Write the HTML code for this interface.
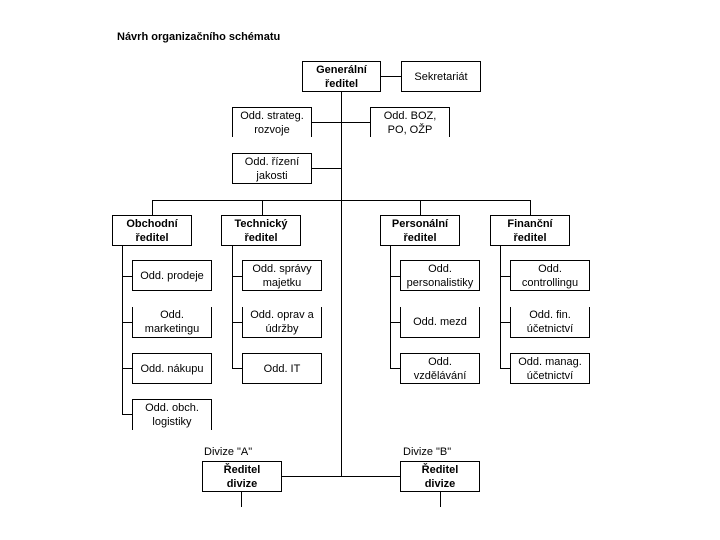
<!DOCTYPE html>
<html><head><meta charset="utf-8"><style>
body{margin:0;width:720px;height:540px;background:#fff;position:relative;overflow:hidden;font-family:"Liberation Sans",sans-serif;}
.b{position:absolute;box-sizing:border-box;border:1px solid #000;background:#fff;display:flex;align-items:center;justify-content:center;text-align:center;font-size:11px;line-height:14px;color:#000;}
.h{font-weight:bold;}
.nb{border-bottom:none;}
.nt{border-top:none;}
.l{position:absolute;background:#000;}
.t{position:absolute;font-size:11px;color:#000;white-space:nowrap;}
</style></head><body>
<div class="t" style="left:117px;top:31px;font-weight:bold;font-size:11px">Návrh organizačního schématu</div>

<!-- main vertical -->
<div class="l" style="left:341px;top:92px;width:1px;height:384px"></div>
<div class="l" style="left:380px;top:76px;width:21px;height:1px"></div>
<div class="l" style="left:312px;top:122px;width:58px;height:1px"></div>
<div class="l" style="left:312px;top:168px;width:29px;height:1px"></div>
<div class="l" style="left:152px;top:200px;width:379px;height:1px"></div>
<div class="l" style="left:152px;top:200px;width:1px;height:15px"></div>
<div class="l" style="left:262px;top:200px;width:1px;height:15px"></div>
<div class="l" style="left:420px;top:200px;width:1px;height:15px"></div>
<div class="l" style="left:530px;top:200px;width:1px;height:15px"></div>

<div class="b h" style="left:302px;top:61px;width:79px;height:31px">Generální<br>ředitel</div>
<div class="b" style="left:401px;top:61px;width:80px;height:31px">Sekretariát</div>
<div class="b nb" style="left:232px;top:107px;width:80px;height:30px">Odd. strateg.<br>rozvoje</div>
<div class="b nb" style="left:370px;top:107px;width:80px;height:30px">Odd. BOZ,<br>PO, OŽP</div>
<div class="b" style="left:232px;top:153px;width:80px;height:31px">Odd. řízení<br>jakosti</div>

<div class="b h" style="left:112px;top:215px;width:80px;height:31px">Obchodní<br>ředitel</div>
<div class="b h" style="left:221px;top:215px;width:80px;height:31px">Technický<br>ředitel</div>
<div class="b h" style="left:380px;top:215px;width:80px;height:31px">Personální<br>ředitel</div>
<div class="b h" style="left:490px;top:215px;width:80px;height:31px">Finanční<br>ředitel</div>

<!-- column lines -->
<div class="l" style="left:122px;top:246px;width:1px;height:169px"></div>
<div class="l" style="left:232px;top:246px;width:1px;height:123px"></div>
<div class="l" style="left:390px;top:246px;width:1px;height:123px"></div>
<div class="l" style="left:500px;top:246px;width:1px;height:123px"></div>
<div class="l" style="left:122px;top:276px;width:10px;height:1px"></div>
<div class="l" style="left:122px;top:322px;width:10px;height:1px"></div>
<div class="l" style="left:122px;top:368px;width:10px;height:1px"></div>
<div class="l" style="left:122px;top:414px;width:10px;height:1px"></div>
<div class="l" style="left:232px;top:276px;width:10px;height:1px"></div>
<div class="l" style="left:232px;top:322px;width:10px;height:1px"></div>
<div class="l" style="left:232px;top:368px;width:10px;height:1px"></div>
<div class="l" style="left:390px;top:276px;width:10px;height:1px"></div>
<div class="l" style="left:390px;top:322px;width:10px;height:1px"></div>
<div class="l" style="left:390px;top:368px;width:10px;height:1px"></div>
<div class="l" style="left:500px;top:276px;width:10px;height:1px"></div>
<div class="l" style="left:500px;top:322px;width:10px;height:1px"></div>
<div class="l" style="left:500px;top:368px;width:10px;height:1px"></div>

<div class="b" style="left:132px;top:260px;width:80px;height:31px">Odd. prodeje</div>
<div class="b nt" style="left:132px;top:307px;width:80px;height:31px">Odd.<br>marketingu</div>
<div class="b" style="left:132px;top:353px;width:80px;height:31px">Odd. nákupu</div>
<div class="b nb" style="left:132px;top:399px;width:80px;height:31px">Odd. obch.<br>logistiky</div>

<div class="b" style="left:242px;top:260px;width:80px;height:31px">Odd. správy<br>majetku</div>
<div class="b nt" style="left:242px;top:307px;width:80px;height:31px">Odd. oprav a<br>údržby</div>
<div class="b" style="left:242px;top:353px;width:80px;height:31px">Odd. IT</div>

<div class="b" style="left:400px;top:260px;width:80px;height:31px">Odd.<br>personalistiky</div>
<div class="b nt" style="left:400px;top:307px;width:80px;height:31px">Odd. mezd</div>
<div class="b" style="left:400px;top:353px;width:80px;height:31px">Odd.<br>vzdělávání</div>

<div class="b" style="left:510px;top:260px;width:80px;height:31px">Odd.<br>controllingu</div>
<div class="b nt" style="left:510px;top:307px;width:80px;height:31px">Odd. fin.<br>účetnictví</div>
<div class="b" style="left:510px;top:353px;width:80px;height:31px">Odd. manag.<br>účetnictví</div>

<!-- divisions -->
<div class="l" style="left:281px;top:476px;width:120px;height:1px"></div>
<div class="t" style="left:204px;top:446px">Divize "A"</div>
<div class="t" style="left:403px;top:446px">Divize "B"</div>
<div class="b h" style="left:202px;top:461px;width:80px;height:31px">Ředitel<br>divize</div>
<div class="b h" style="left:400px;top:461px;width:80px;height:31px">Ředitel<br>divize</div>
<div class="l" style="left:241px;top:492px;width:1px;height:15px"></div>
<div class="l" style="left:440px;top:492px;width:1px;height:15px"></div>
</body></html>
